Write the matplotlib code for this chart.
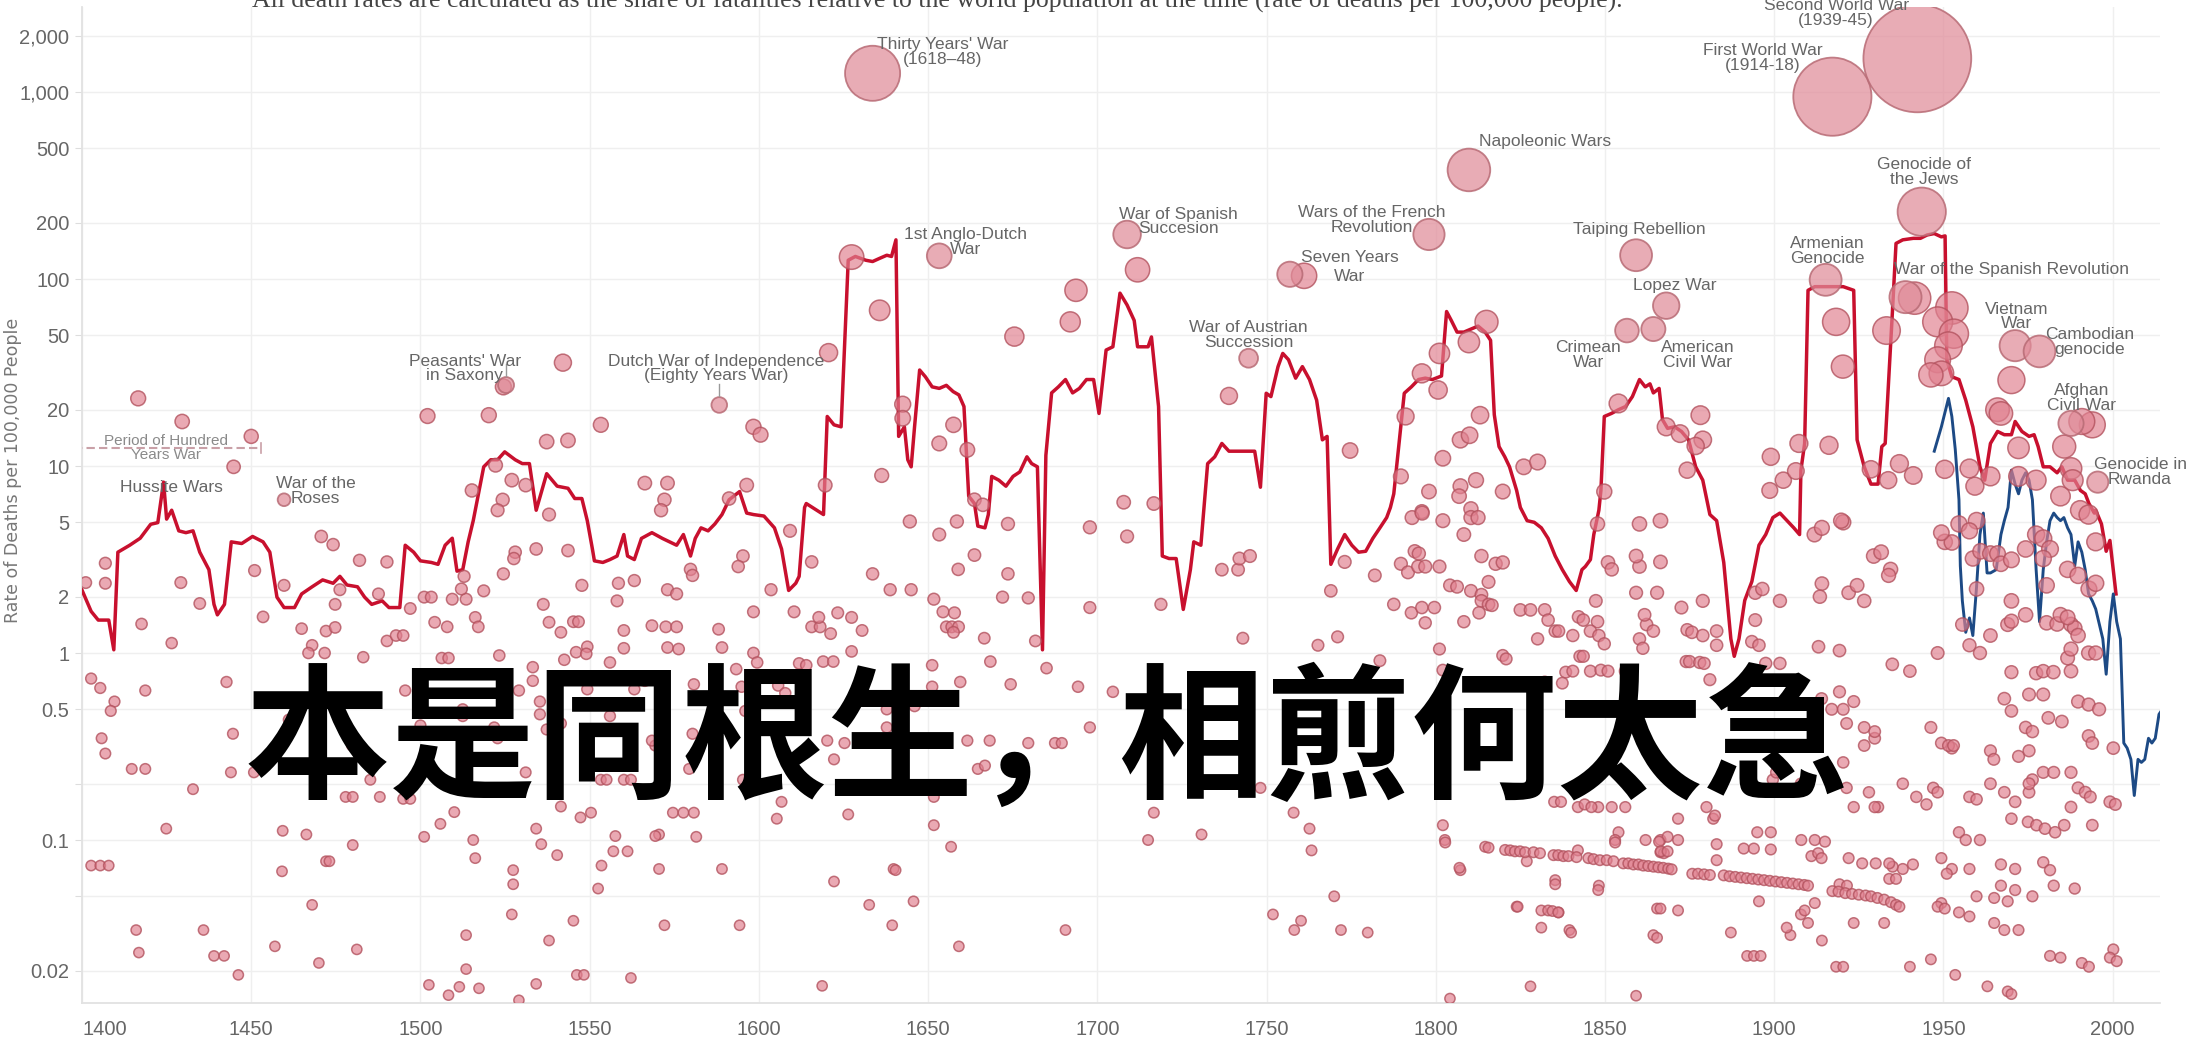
import numpy as np
import matplotlib
matplotlib.use("Agg")
import matplotlib.pyplot as plt
from matplotlib.ticker import NullLocator

# ---- global death rate (red) and post-1946 series (blue), per 100,000 people
line_years = [1400.0, 1402.7, 1404.8, 1407.9, 1409.4, 1410.6, 1414.1, 1417.2, 1420.3, 1422.4, 1424.1, 1425.0,
              1426.5, 1428.6, 1430.7, 1432.8, 1434.8, 1437.5, 1439.0, 1440.0, 1442.1, 1444.1, 1447.2, 1450.4,
              1453.5, 1455.5, 1457.6, 1459.7, 1462.8, 1464.9, 1468.0, 1471.1, 1474.2, 1476.2, 1478.3, 1481.4,
              1483.5, 1485.6, 1488.7, 1490.7, 1493.9, 1495.5, 1498.0, 1500.0, 1503.2, 1505.2, 1507.3, 1509.4,
              1510.8, 1512.5, 1514.1, 1515.6, 1518.7, 1520.8, 1522.8, 1524.9, 1528.0, 1530.1, 1532.2, 1534.2,
              1537.3, 1540.4, 1543.6, 1545.6, 1547.7, 1549.3, 1550.8, 1551.4, 1553.9, 1556.0, 1558.1, 1560.1,
              1561.2, 1563.2, 1565.3, 1568.4, 1571.5, 1573.6, 1575.7, 1577.7, 1579.8, 1581.2, 1582.9, 1585.0,
              1587.0, 1589.1, 1591.2, 1594.3, 1596.4, 1598.4, 1601.5, 1604.6, 1606.7, 1608.8, 1610.9, 1611.9,
              1613.5, 1614.0, 1617.1, 1619.1, 1620.2, 1622.2, 1624.3, 1626.4, 1628.5, 1631.6, 1633.6, 1635.7,
              1637.8, 1639.2, 1640.5, 1641.3, 1643.0, 1644.0, 1645.0, 1646.0, 1647.5, 1649.2, 1651.2, 1653.3,
              1655.4, 1657.4, 1659.1, 1660.6, 1662.0, 1663.7, 1664.7, 1666.8, 1667.8, 1668.8, 1670.9, 1673.0,
              1675.1, 1677.1, 1679.2, 1680.6, 1682.3, 1683.8, 1684.8, 1686.5, 1688.5, 1690.6, 1692.7, 1694.7,
              1696.8, 1698.9, 1700.5, 1702.6, 1704.6, 1706.7, 1708.8, 1710.9, 1711.9, 1715.0, 1716.0, 1718.1,
              1719.2, 1721.2, 1723.3, 1725.4, 1727.5, 1728.5, 1730.6, 1732.6, 1734.7, 1736.8, 1738.9, 1742.0,
              1746.5, 1748.2, 1749.9, 1751.3, 1753.4, 1754.8, 1756.5, 1758.6, 1760.6, 1762.7, 1764.8, 1766.5,
              1767.9, 1769.0, 1771.0, 1773.1, 1775.2, 1777.2, 1779.3, 1781.4, 1783.5, 1785.5, 1786.6, 1787.6,
              1790.7, 1792.8, 1794.9, 1796.9, 1799.0, 1801.7, 1803.2, 1804.6, 1806.3, 1808.3, 1810.4, 1812.5,
              1814.6, 1816.2, 1817.3, 1818.7, 1820.4, 1821.8, 1823.9, 1825.0, 1827.0, 1829.1, 1831.2, 1833.2,
              1835.3, 1837.4, 1839.5, 1841.5, 1843.2, 1844.2, 1845.7, 1846.7, 1848.2, 1848.8, 1849.8, 1851.9,
              1854.0, 1856.1, 1858.1, 1860.2, 1861.9, 1863.3, 1864.3, 1866.0, 1867.0, 1868.5, 1870.6, 1872.6,
              1874.7, 1876.8, 1878.9, 1881.0, 1883.0, 1885.1, 1887.2, 1888.2, 1889.6, 1891.3, 1893.4, 1895.5,
              1897.5, 1899.6, 1901.7, 1903.8, 1905.8, 1907.5, 1907.9, 1909.0, 1910.0, 1912.0, 1916.2, 1920.4,
              1923.5, 1924.5, 1926.6, 1928.6, 1930.7, 1931.8, 1932.8, 1934.9, 1936.0, 1938.0, 1941.1, 1943.2,
              1945.2, 1947.3, 1949.4, 1950.5, 1951.0, 1952.5, 1954.6, 1956.6, 1958.7, 1960.8, 1962.2, 1963.9,
              1966.0, 1968.0, 1970.1, 1971.2, 1973.2, 1975.3, 1976.8, 1978.0, 1979.5, 1981.5, 1983.6, 1985.0,
              1986.7, 1988.8, 1990.5, 1991.9, 1993.0, 1994.6, 1995.0, 1996.7, 1998.1, 1999.2, 2001.0]
line_rates = [2.17, 1.67, 1.50, 1.50, 1.04, 3.46, 3.77, 4.11, 4.88, 4.98, 8.2, 5.2,
              5.8, 4.5, 4.4, 4.5, 3.46, 2.79, 1.82, 1.60, 1.82, 3.93, 3.85, 4.2,
              3.93, 3.46, 1.99, 1.75, 1.75, 2.07, 2.26, 2.46, 2.36, 2.57, 2.31, 2.26,
              1.99, 1.82, 1.90, 1.75, 1.75, 3.77, 3.46, 3.11, 3.05, 2.98, 3.77, 4.11,
              2.74, 2.79, 3.93, 5.1, 9.9, 10.8, 10.8, 11.9, 10.8, 10.3, 10.3, 5.8,
              9.1, 7.8, 7.6, 6.7, 6.7, 5.1, 3.61, 3.11, 3.05, 3.16, 3.3, 4.3,
              3.3, 3.16, 4.1, 4.4, 4.1, 3.93, 3.77, 4.3, 3.3, 4.1, 4.67, 4.5,
              4.9, 5.5, 6.6, 7.3, 5.6, 5.5, 5.4, 4.67, 3.6, 2.16, 2.36, 2.57,
              6.0, 6.3, 5.8, 5.5, 18.4, 16.6, 16.2, 126, 132, 126, 124, 129,
              134, 132, 162, 14.4, 16.2, 10.8, 9.9, 16.2, 32.6, 30, 26.5, 26,
              27, 25, 24, 20.8, 6.9, 6.3, 4.77, 4.67, 5.5, 8.8, 8.4, 7.8,
              8.8, 9.3, 11.2, 10.3, 9.9, 1.04, 11.4, 24.6, 26.5, 29, 24.6, 26,
              29, 29, 19.1, 41.7, 43.4, 84, 72.6, 60, 43.4, 43.4, 49, 20.8,
              3.3, 3.2, 3.2, 1.71, 2.79, 3.93, 3.77, 10.3, 11.2, 13.2, 12.0, 12.0,
              12.0, 7.7, 24.5, 23.5, 34, 40, 37, 29.5, 34, 29, 22.5, 13.8,
              14.4, 2.98, 3.6, 4.3, 3.77, 3.46, 3.5, 4.1, 4.67, 5.3, 6.0, 7.1,
              24.5, 26.5, 29, 29.5, 29, 30.3, 67, 60, 52, 52, 54, 56,
              52, 47, 18.8, 12.7, 11.2, 9.9, 7.4, 6.0, 5.1, 5.0, 4.67, 4.1,
              3.3, 2.79, 2.41, 2.16, 2.79, 2.9, 3.16, 4.3, 5.8, 7.4, 18.4, 19.1,
              20, 20.8, 23.5, 29, 26.5, 27.5, 24.6, 26, 17.7, 15.9, 16.2, 15.3,
              13.8, 9.9, 8.4, 5.5, 5.1, 3.05, 1.19, 0.96, 1.19, 1.91, 2.41, 3.77,
              4.3, 5.3, 5.6, 5.1, 4.67, 4.3, 9.5, 13.2, 87, 91, 91, 91,
              87, 13.8, 9.9, 8.0, 8.0, 12.7, 13.2, 65, 155, 162, 165, 165,
              172, 175, 168, 170, 37, 30, 29, 22.5, 16.2, 9.9, 8.4, 13.2,
              15.3, 14.7, 14.7, 17.3, 15.3, 14.4, 14.7, 12.7, 9.9, 9.9, 9.2, 9.9,
              8.4, 8.4, 7.4, 7.1, 6.3, 5.6, 5.8, 4.9, 3.5, 4.0, 2.07]

blue_years = [1947.3, 1949.4, 1951.5, 1952.5, 1953.5, 1954.6, 1955.0, 1955.6, 1956.6, 1957.7, 1958.7, 1959.8,
              1960.8, 1961.8, 1962.9, 1963.9, 1965.6, 1967.0, 1968.0, 1969.1, 1970.1, 1971.2, 1972.2, 1973.2,
              1974.3, 1975.3, 1976.3, 1977.4, 1978.4, 1979.5, 1980.5, 1981.5, 1982.6, 1983.6, 1984.6, 1985.6,
              1986.7, 1987.7, 1988.8, 1989.8, 1990.9, 1991.9, 1992.9, 1994.0, 1995.0, 1997.1, 1998.1, 1999.2,
              2000.2, 2001.2, 2002.3, 2003.3, 2004.3, 2005.4, 2006.4, 2007.5, 2008.5, 2009.5, 2010.6, 2011.6,
              2012.6, 2013.7, 2014.7]
blue_rates = [12, 16.2, 23, 18.4, 12.3, 6.6, 2.92, 1.9, 1.29, 1.54, 1.24, 2.26,
              4.3, 5.6, 2.68, 2.68, 2.79, 4.3, 5.1, 6.0, 9.5, 8.0, 7.1, 8.4,
              9.2, 8.4, 6.6, 2.79, 1.47, 2.79, 3.93, 5.1, 5.6, 5.3, 5.1, 5.3,
              4.67, 4.3, 2.92, 3.93, 3.46, 2.79, 2.07, 1.9, 1.72, 1.19, 0.77, 1.47,
              2.07, 1.47, 1.19, 0.33, 0.31, 0.27, 0.173, 0.27, 0.26, 0.27, 0.35, 0.33,
              0.35, 0.47, 0.5]

# ---- individual conflicts (year, rate per 100,000)
dots_1400s = [(1416.6, 23.0), (1429.6, 17.3), (1450.0, 14.4), (1444.8, 9.9),
              (1401.1, 2.38), (1406.9, 3.02), (1406.9, 2.36), (1402.7, 0.73), (1405.4, 0.65), (1409.6, 0.55),
              (1408.5, 0.49), (1405.8, 0.35), (1406.9, 0.29), (1402.7, 0.073), (1405.4, 0.073), (1407.9, 0.073),
              (1417.6, 1.43), (1418.7, 0.63), (1414.7, 0.24), (1418.7, 0.24), (1426.5, 1.13), (1429.2, 2.38),
              (1424.9, 0.115), (1432.8, 0.187), (1416.0, 0.033), (1416.8, 0.025), (1434.8, 1.84), (1435.9, 0.033),
              (1439.0, 0.024), (1442.0, 0.024), (1446.2, 0.019), (1442.7, 0.70), (1444.6, 0.37), (1444.0, 0.23),
              (1450.8, 0.23), (1451.0, 2.76), (1453.5, 1.56), (1459.3, 0.112), (1459.1, 0.068), (1459.7, 2.3),
              (1457.0, 0.027), (1464.9, 1.35), (1468.0, 1.1), (1466.9, 1.0), (1466.3, 0.107), (1471.7, 1.0),
              (1472.1, 1.31), (1474.8, 1.37), (1470.7, 4.2), (1474.2, 3.8), (1461.1, 0.44), (1468.0, 0.045),
              (1470.0, 0.022), (1472.1, 0.077), (1473.1, 0.077), (1470.0, 0.31), (1474.8, 1.82), (1476.2, 2.18),
              (1482.0, 3.13), (1483.1, 0.95), (1479.8, 0.32), (1477.9, 0.17), (1480.0, 0.17), (1480.0, 0.094),
              (1481.2, 0.026), (1485.2, 0.21), (1488.0, 0.17), (1490.1, 3.07), (1487.6, 2.07), (1490.1, 1.16),
              (1492.8, 1.24), (1494.9, 1.24), (1495.5, 0.63), (1494.9, 0.166), (1497.0, 0.166), (1497.0, 1.73)]

dots_1500s = [(1502.1, 18.5), (1520.2, 18.7), (1524.5, 26.5), (1542.1, 35.7), (1537.3, 13.5), (1543.6, 13.7),
              (1553.3, 16.6), (1515.2, 7.4), (1522.2, 10.1), (1527.0, 8.4), (1531.1, 7.9), (1524.3, 6.6),
              (1522.8, 5.8), (1538.0, 5.5), (1566.3, 8.1), (1573.0, 8.1), (1572.1, 6.6), (1571.1, 5.8),
              (1598.4, 16.2), (1596.4, 7.9), (1591.2, 6.7),
              (1501.1, 1.99), (1503.2, 1.99), (1501.1, 0.104), (1505.9, 0.122), (1510.0, 0.141), (1504.2, 1.46),
              (1507.9, 1.38), (1506.3, 0.94), (1508.3, 0.94), (1500.0, 0.41), (1502.5, 0.0168), (1508.3, 0.0148),
              (1511.5, 0.0164), (1513.5, 0.0204), (1517.3, 0.0161), (1515.6, 0.1), (1516.2, 0.080), (1513.5, 0.031),
              (1509.4, 1.94), (1513.5, 1.94), (1512.1, 2.2), (1518.7, 2.15), (1516.2, 1.55), (1517.1, 1.38),
              (1512.9, 2.57), (1524.5, 2.65), (1528.0, 3.46), (1527.6, 3.2), (1534.2, 3.6), (1523.3, 0.97),
              (1533.2, 0.84), (1533.2, 0.71), (1535.3, 0.55), (1535.3, 0.47), (1529.1, 0.63), (1531.1, 0.23),
              (1527.4, 0.069), (1527.4, 0.058), (1527.0, 0.040), (1529.1, 0.0139), (1534.2, 0.017), (1534.2, 0.115),
              (1535.7, 0.095), (1540.4, 0.083), (1538.0, 0.029), (1536.3, 1.82), (1538.0, 1.46), (1541.5, 1.29),
              (1542.5, 0.92), (1543.6, 3.53), (1545.2, 1.47), (1546.7, 1.47), (1547.7, 2.3), (1546.0, 1.01),
              (1549.3, 1.08), (1549.0, 0.99), (1541.5, 0.151), (1545.2, 0.037), (1546.2, 0.019), (1548.3, 0.019),
              (1547.3, 0.132), (1550.4, 0.14), (1552.5, 0.055), (1553.5, 0.073), (1557.0, 0.087), (1557.6, 0.105),
              (1556.0, 0.89), (1554.5, 0.73), (1558.1, 1.9), (1560.1, 1.32), (1558.5, 2.36), (1563.2, 2.44),
              (1561.2, 0.087), (1562.2, 0.0183), (1560.1, 1.06), (1553.3, 0.21), (1555.0, 0.21), (1560.1, 0.21),
              (1562.2, 0.21), (1568.4, 1.4), (1572.5, 1.38), (1575.7, 1.38), (1573.0, 1.07), (1576.3, 1.05),
              (1573.0, 2.18), (1575.7, 2.07), (1566.3, 0.71), (1569.4, 0.32), (1574.6, 0.14), (1577.7, 0.14),
              (1580.8, 0.14), (1570.5, 0.107), (1569.4, 0.105), (1581.5, 0.104), (1570.5, 0.070), (1572.1, 0.035),
              (1579.8, 2.8), (1580.4, 2.6), (1588.1, 1.34), (1589.1, 1.07), (1580.8, 0.68), (1580.4, 0.37),
              (1579.4, 0.24), (1587.5, 0.21), (1589.1, 0.07), (1594.3, 0.035), (1595.3, 3.3), (1593.9, 2.9),
              (1598.4, 1.66), (1598.4, 1.0), (1599.5, 0.89), (1593.3, 0.82), (1594.9, 0.66), (1596.0, 0.49),
              (1595.3, 0.21), (1512.5, 0.5), (1512.5, 0.46), (1521.8, 0.40), (1522.8, 0.35), (1537.3, 0.39),
              (1541.5, 0.42), (1549.3, 0.64), (1556.0, 0.46), (1563.2, 0.64), (1568.4, 0.34)]

dots_1600s = [(1600.5, 14.7), (1620.6, 40.4), (1619.6, 7.9), (1627.4, 131), (1635.7, 68), (1642.5, 21.4),
              (1642.5, 18.0), (1657.5, 16.6), (1653.3, 13.2), (1661.6, 12.2), (1636.3, 8.9), (1663.7, 6.6),
              (1666.2, 6.2), (1675.5, 49.2), (1692.0, 59), (1693.7, 87),
              (1603.6, 2.18), (1609.2, 4.5), (1610.4, 1.66), (1615.6, 3.07), (1605.3, 0.13), (1606.7, 0.16),
              (1611.9, 0.88), (1614.0, 0.86), (1615.6, 1.38), (1618.1, 1.38), (1617.7, 1.55), (1621.2, 1.27),
              (1623.3, 1.64), (1627.4, 1.55), (1630.5, 1.32), (1627.4, 1.02), (1620.2, 0.34), (1622.2, 0.27),
              (1625.3, 0.33), (1626.4, 0.137), (1622.2, 0.06), (1618.7, 0.0166), (1633.6, 2.65), (1638.8, 2.18),
              (1645.0, 2.18), (1644.6, 5.05), (1653.3, 4.3), (1658.5, 5.05), (1637.8, 0.50), (1637.8, 0.40),
              (1632.6, 0.045), (1639.8, 0.07), (1640.4, 0.069), (1639.4, 0.035), (1645.7, 0.047), (1651.2, 0.86),
              (1651.2, 0.66), (1646.0, 0.52), (1651.7, 1.94), (1654.4, 1.66), (1657.8, 1.64), (1655.4, 1.38),
              (1657.0, 1.38), (1659.0, 1.38), (1657.5, 1.29), (1651.7, 0.17), (1651.7, 0.12), (1656.8, 0.092),
              (1659.1, 0.027), (1659.5, 0.7), (1658.9, 2.8), (1663.7, 3.34), (1666.6, 1.2), (1668.4, 0.90),
              (1673.6, 4.9), (1673.6, 2.65), (1672.0, 1.99), (1674.4, 0.68), (1679.6, 1.97), (1681.7, 1.16),
              (1685.0, 0.83), (1679.6, 0.33), (1687.5, 0.33), (1689.5, 0.33), (1668.2, 0.34), (1690.6, 0.033),
              (1694.3, 0.66), (1697.8, 1.75), (1697.8, 4.7), (1697.8, 0.4), (1605.7, 0.67), (1607.8, 0.61),
              (1609.8, 0.23), (1619.0, 0.9), (1622.0, 0.9), (1661.6, 0.34), (1664.7, 0.24), (1666.8, 0.25)]

dots_1700s = [(1711.9, 112), (1707.8, 6.4), (1716.7, 6.3), (1738.9, 23.7), (1761.1, 104), (1774.7, 12.1),
              (1791.1, 18.4), (1795.9, 31.3), (1789.7, 8.8), (1798.0, 7.3), (1795.9, 5.7),
              (1708.8, 4.2), (1718.8, 1.82), (1736.8, 2.79), (1741.6, 2.79), (1742.0, 3.2), (1745.1, 3.3),
              (1743.0, 1.2), (1704.6, 0.62), (1715.0, 0.10), (1716.7, 0.14), (1730.8, 0.107), (1751.9, 0.040),
              (1758.0, 0.14), (1762.7, 0.115), (1763.3, 0.088), (1758.2, 0.033), (1760.2, 0.037), (1770.0, 0.050),
              (1772.0, 0.033), (1779.9, 0.032), (1765.2, 1.1), (1771.0, 1.22), (1769.0, 2.15), (1773.1, 3.07),
              (1782.0, 2.6), (1783.5, 0.91), (1787.6, 1.82), (1792.8, 1.64), (1795.9, 1.75), (1799.6, 1.75),
              (1789.7, 3.0), (1791.8, 2.7), (1794.8, 2.9), (1796.9, 2.9), (1793.8, 3.5), (1795.0, 3.4),
              (1796.9, 1.45), (1748.2, 0.19), (1793.0, 5.3), (1796.0, 5.6)]

dots_1800s = [(1815.0, 59), (1809.8, 46), (1801.1, 40), (1800.7, 25.5), (1813.1, 18.7), (1807.3, 13.8),
              (1810.0, 14.6), (1802.1, 11), (1826.0, 9.9), (1830.1, 10.5), (1811.9, 8.4), (1807.3, 7.8),
              (1819.8, 7.3), (1806.9, 6.9), (1810.4, 5.9), (1854.0, 21.6), (1878.2, 18.7), (1868.1, 16.2),
              (1872.2, 14.9), (1878.9, 13.8), (1876.8, 12.8), (1874.3, 9.5), (1849.8, 7.3), (1899.0, 11.2),
              (1898.7, 7.4),
              (1801.1, 2.9), (1801.1, 1.05), (1802.1, 0.81), (1804.2, 2.3), (1806.3, 2.26), (1808.3, 1.47),
              (1810.4, 2.15), (1813.5, 2.05), (1815.6, 2.4), (1813.5, 1.9), (1815.6, 1.82), (1816.6, 1.8),
              (1817.7, 3.0), (1819.8, 3.05), (1813.5, 3.3), (1812.8, 1.64), (1808.3, 4.3), (1810.4, 5.3),
              (1812.5, 5.3), (1802.1, 5.1), (1825.0, 1.7), (1828.0, 1.7), (1832.2, 1.7), (1833.2, 1.5),
              (1835.3, 1.31), (1842.2, 1.56), (1843.6, 1.5), (1847.8, 1.47), (1847.3, 1.9), (1842.6, 0.96),
              (1843.6, 0.96), (1838.4, 0.79), (1840.5, 0.8), (1837.4, 0.69), (1830.0, 0.68), (1832.2, 0.7),
              (1828.0, 0.67), (1819.8, 0.97), (1820.8, 0.93), (1816.6, 0.68), (1830.1, 1.19), (1836.3, 1.31),
              (1840.5, 1.24), (1845.7, 1.31), (1848.2, 1.24), (1849.8, 1.12), (1845.7, 0.8), (1848.8, 0.81),
              (1850.9, 0.8), (1856.0, 0.8), (1857.0, 0.8), (1862.3, 1.42), (1864.3, 1.31), (1860.2, 1.19),
              (1861.2, 1.06), (1861.7, 1.6), (1859.2, 2.1), (1860.2, 2.9), (1859.2, 3.3), (1866.4, 3.07),
              (1874.3, 1.33), (1875.7, 1.29), (1878.9, 1.24), (1883.0, 1.31), (1883.0, 1.1), (1874.0, 0.9),
              (1875.0, 0.9), (1878.0, 0.89), (1879.3, 0.88), (1881.0, 0.72), (1878.9, 1.9), (1872.6, 1.75),
              (1865.4, 2.1), (1850.9, 3.05), (1852.0, 2.8), (1860.2, 4.9), (1866.4, 5.1), (1847.8, 4.9),
              (1893.4, 1.15), (1895.5, 1.1), (1897.5, 0.88), (1894.4, 0.8), (1894.4, 2.1), (1896.5, 2.2),
              (1894.4, 1.5),
              (1802.1, 0.12), (1802.7, 0.1), (1807.3, 0.069), (1802.8, 0.097), (1823.9, 0.044), (1831.2, 0.042),
              (1833.2, 0.042), (1836.3, 0.041), (1831.2, 0.034), (1839.5, 0.033), (1835.3, 0.061), (1848.2, 0.057),
              (1835.3, 0.058), (1848.0, 0.054), (1824.2, 0.044), (1834.5, 0.0417), (1836.2, 0.041), (1840.0, 0.032),
              (1865.4, 0.043), (1866.4, 0.043), (1871.6, 0.042), (1864.3, 0.031), (1865.4, 0.030), (1887.2, 0.032),
              (1828.0, 0.0165), (1859.2, 0.0147), (1804.2, 0.0142), (1854.0, 0.11), (1853.0, 0.1), (1862.0, 0.1),
              (1866.4, 0.1), (1871.6, 0.1), (1868.5, 0.104), (1866.4, 0.086), (1867.4, 0.085), (1883.0, 0.095),
              (1883.0, 0.078), (1882.0, 0.13), (1871.6, 0.13), (1891.0, 0.09), (1894.0, 0.09), (1899.0, 0.089),
              (1895.0, 0.11), (1899.0, 0.11), (1895.5, 0.047), (1892.0, 0.024), (1894.0, 0.024), (1896.0, 0.024),
              (1880.0, 0.15), (1882.5, 0.135), (1848.0, 0.15), (1852.0, 0.15), (1856.0, 0.15), (1842.0, 0.15),
              (1844.0, 0.155), (1846.0, 0.15), (1835.0, 0.16), (1837.0, 0.16), (1842.0, 0.088), (1853.0, 0.097),
              (1866.0, 0.098), (1866.5, 0.087), (1868.5, 0.087), (1826.9, 0.077), (1807.0, 0.071)]

dots_1900s = [(1918.3, 59), (1920.3, 34), (1941.5, 79), (1952.5, 70), (1948.3, 59), (1953.1, 51),
              (1951.5, 44), (1948.3, 37), (1949.4, 31.3), (1946.3, 30.7), (1933.2, 53), (1970.1, 28.8),
              (1966.0, 20), (1967.0, 19.1), (1994.0, 16.6), (1990.9, 17.3), (1985.7, 12.7), (1972.2, 12.5),
              (1987.7, 9.7), (1907.3, 13.2), (1916.2, 12.9), (1902.7, 8.4), (1906.4, 9.4), (1928.6, 9.6),
              (1933.7, 8.4), (1937.0, 10.3), (1941.1, 8.9), (1950.4, 9.6), (1959.3, 7.8), (1957.7, 9.7),
              (1963.9, 8.8), (1972.2, 8.8), (1977.4, 8.4), (1984.6, 6.9), (1988.2, 8.4),
              (1901.7, 0.88), (1901.7, 1.9), (1913.1, 1.08), (1919.3, 1.03), (1914.1, 2.35), (1913.5, 2.0),
              (1922.0, 2.1), (1924.5, 2.3), (1926.6, 1.9), (1929.4, 3.3), (1931.6, 3.46), (1934.4, 2.8),
              (1933.8, 2.6), (1934.9, 0.87), (1940.1, 0.8), (1948.3, 1.0), (1911.9, 4.3), (1914.1, 4.67),
              (1920.4, 5.0), (1919.8, 5.1), (1950.4, 3.93), (1952.5, 3.9), (1954.6, 4.9), (1958.7, 3.2),
              (1961.0, 3.5), (1963.9, 3.4), (1966.0, 3.4), (1967.0, 3.0), (1970.1, 3.15), (1974.3, 3.6),
              (1959.8, 2.2), (1970.1, 1.9), (1974.3, 1.6), (1969.0, 1.42), (1970.1, 1.48), (1963.9, 1.24),
              (1957.7, 1.1), (1960.8, 1.0), (1955.6, 1.42), (1970.1, 0.79), (1977.4, 0.78), (1979.5, 0.8),
              (1982.5, 0.79), (1987.7, 0.8), (1975.3, 0.6), (1979.5, 0.6), (1980.5, 1.45), (1983.6, 1.43),
              (1987.7, 1.42), (1988.8, 1.36), (1984.6, 1.6), (1986.7, 1.55), (1989.8, 1.24), (1992.9, 1.0),
              (1986.7, 0.94), (1987.7, 1.05), (1995.0, 1.0), (1977.4, 4.3), (1979.5, 4.1), (1981.5, 3.6),
              (1979.5, 3.2), (1980.5, 2.3), (1986.7, 2.8), (1989.8, 2.6), (1993.0, 2.2), (1995.0, 2.36),
              (1995.0, 3.93), (1990.4, 5.8), (1992.9, 5.5), (1959.8, 5.1), (1957.7, 4.5), (1949.4, 4.4),
              (1952.5, 0.31), (1949.4, 0.33), (1963.9, 0.3), (1964.9, 0.27), (1972.2, 0.28), (1975.3, 0.3),
              (1968.0, 0.57), (1970.1, 0.49), (1974.3, 0.4), (1976.3, 0.38), (1981.0, 0.45), (1985.0, 0.43),
              (1989.8, 0.55), (1992.9, 0.53), (1996.0, 0.5), (1992.9, 0.36), (1994.0, 0.33), (2000.2, 0.31),
              (1989.8, 0.19), (1991.9, 0.18), (1993.4, 0.17), (1999.2, 0.16), (2000.8, 0.155), (1987.7, 0.15),
              (1985.7, 0.12), (1994.0, 0.12), (1975.0, 0.125), (1977.5, 0.12), (1980.0, 0.115), (1983.0, 0.11),
              (1970.1, 0.13), (1971.2, 0.16), (1975.3, 0.18), (1976.3, 0.21), (1975.3, 0.2), (1979.5, 0.23),
              (1982.6, 0.23), (1987.7, 0.23), (1968.0, 0.18), (1963.9, 0.2), (1957.7, 0.17), (1959.8, 0.165),
              (1954.6, 0.11), (1956.6, 0.1), (1960.8, 0.1), (1949.4, 0.08), (1952.5, 0.07), (1957.7, 0.07),
              (1967.0, 0.074), (1971.2, 0.07), (1979.5, 0.076), (1981.5, 0.069), (1988.8, 0.055), (1982.6, 0.057),
              (1971.2, 0.054), (1976.3, 0.05), (1967.0, 0.057), (1969.0, 0.047), (1959.8, 0.05), (1965.0, 0.049),
              (1949.4, 0.046), (1948.3, 0.044), (1950.4, 0.043), (1954.6, 0.041), (1957.7, 0.039), (1965.0, 0.036),
              (1972.2, 0.033), (1968.0, 0.033), (1981.5, 0.024), (1984.6, 0.0235), (1990.9, 0.022), (1993.0, 0.021),
              (2000.2, 0.026), (1999.2, 0.0235), (2001.2, 0.0225), (1963.0, 0.0165), (1969.0, 0.0155), (1970.1, 0.015),
              (1953.5, 0.019), (1946.3, 0.023), (1940.1, 0.021),
              (1928.0, 0.18), (1930.7, 0.15), (1921.4, 0.19), (1920.4, 0.26), (1926.6, 0.32), (1929.7, 0.35),
              (1938.0, 0.2), (1942.0, 0.17), (1945.0, 0.155), (1947.0, 0.19), (1948.3, 0.18), (1946.3, 0.4),
              (1951.5, 0.32), (1953.0, 0.32), (1951.0, 0.066), (1938.0, 0.07), (1935.0, 0.072), (1941.0, 0.074),
              (1934.0, 0.062), (1936.0, 0.062), (1923.5, 0.15), (1929.7, 0.15), (1908.0, 0.1), (1912.0, 0.1),
              (1915.0, 0.098), (1911.0, 0.082), (1913.0, 0.085), (1914.0, 0.08), (1922.0, 0.08), (1926.0, 0.075),
              (1930.0, 0.075), (1934.0, 0.075), (1919.3, 0.058), (1921.5, 0.057), (1923.5, 0.036), (1932.5, 0.036),
              (1907.9, 0.04), (1909.0, 0.042), (1904.8, 0.031), (1918.3, 0.021), (1920.4, 0.021), (1903.7, 0.034),
              (1912.0, 0.046), (1910.0, 0.036), (1914.1, 0.029), (1899.6, 0.21), (1900.6, 0.23), (1907.9, 0.2),
              (1919.3, 0.62), (1920.4, 0.5), (1921.4, 0.42), (1923.5, 0.55), (1926.6, 0.4), (1929.7, 0.38),
              (1917.0, 0.5), (1914.0, 0.57)]

# long run of small colonial-era entries
dots_chain = [(1814.6, 0.092), (1815.6, 0.091), (1820.5, 0.0885), (1822.0, 0.088), (1823.4, 0.087), (1824.9, 0.087),
              (1826.4, 0.086), (1828.9, 0.086), (1830.8, 0.085), (1834.8, 0.083), (1836.2, 0.083), (1837.7, 0.082),
              (1839.2, 0.082), (1841.6, 0.081), (1845.1, 0.080), (1846.6, 0.079), (1848.5, 0.078), (1850.5, 0.078),
              (1852.5, 0.077), (1855.4, 0.075), (1856.9, 0.075), (1858.4, 0.074), (1859.9, 0.074), (1861.3, 0.073),
              (1862.8, 0.0726), (1864.3, 0.072), (1865.8, 0.0715), (1867.2, 0.071), (1868.7, 0.0703), (1869.7, 0.0697),
              (1875.8, 0.066), (1877.5, 0.066), (1879.3, 0.0655), (1881.0, 0.065), (1885.1, 0.0647), (1886.8, 0.064),
              (1888.5, 0.0635), (1890.2, 0.063), (1891.9, 0.0625), (1893.6, 0.062), (1895.3, 0.0615), (1897.0, 0.061),
              (1898.7, 0.0605), (1900.4, 0.060), (1902.1, 0.0595), (1903.8, 0.059), (1905.5, 0.0585), (1907.2, 0.058),
              (1908.9, 0.0575), (1910.0, 0.057), (1917.2, 0.0533), (1919.0, 0.053), (1921.0, 0.052), (1923.0, 0.0515),
              (1925.0, 0.051), (1927.0, 0.0505), (1928.6, 0.050), (1930.5, 0.049), (1932.5, 0.048), (1934.5, 0.0465),
              (1936.0, 0.045), (1937.0, 0.044)]

# named conflicts
event_years = [1633.6, 1653.3, 1525.3, 1588.3, 1459.7, 1708.8, 1744.7, 1756.9, 1798.0, 1809.8,
               1859.2, 1868.1, 1856.5, 1864.3, 1915.2, 1917.2, 1942.3, 1943.6, 1938.8, 1971.2,
               1978.4, 1987.7, 1995.6]
event_rates = [1259, 133, 27.1, 21.2, 6.6, 173, 37.7, 106, 173, 383,
               134, 72, 53, 54, 99, 944, 1513, 229, 80, 44,
               41, 16.9, 8.2]

# world population (millions), used for bubble area (deaths)
pop_years = [1400, 1500, 1600, 1700, 1750, 1800, 1850, 1900, 1920, 1940, 1950, 1960, 1970, 1980, 1990, 2000, 2015]
pop_millions = [370, 460, 580, 640, 790, 980, 1260, 1650, 1860, 2300, 2525, 3020, 3700, 4440, 5310, 6140, 7350]

# Hundred Years War period (start, end, rate)
hundred_years = (1337, 1453, 12.5)

labels = [
    ("Thirty Years' War\n(1618–48)", 1654.4, 1644),
    ("1st Anglo-Dutch\nWar", 1661.2, 157),
    ("Peasants' War\nin Saxony", 1513.1, 33.2),
    ("Dutch War of Independence\n(Eighty Years War)", 1587.5, 33.2),
    ("Hussite Wars", 1426.5, 7.7),
    ("War of the\nRoses", 1469.0, 7.35),
    ("War of Spanish\nSuccesion", 1724.0, 203),
    ("War of Austrian\nSuccession", 1744.7, 50.2),
    ("Wars of the French\nRevolution", 1781.1, 207),
    ("Napoleonic Wars", 1832.2, 542),
    ("Taiping Rebellion", 1860.2, 185),
    ("Lopez War", 1870.6, 92),
    ("Crimean\nWar", 1845.1, 39.4),
    ("American\nCivil War", 1877.4, 39.4),
    ("Armenian\nGenocide", 1915.8, 141),
    ("First World War\n(1914-18)", 1896.5, 1514),
    ("Second World War\n(1939-45)", 1918.3, 2650),
    ("Genocide of\nthe Jews", 1944.2, 375),
    ("War of the Spanish Revolution", 1970.1, 113),
    ("Vietnam\nWar", 1971.6, 63),
    ("Cambodian\ngenocide", 1993.3, 46.2),
    ("Afghan\nCivil War", 1990.9, 23.2),
    ("Genocide in\nRwanda", 2008.1, 9.3),
]

yticks = [2000, 1000, 500, 200, 100, 50, 20, 10, 5, 2, 1, 0.5, 0.2, 0.1, 0.05, 0.02]
ytick_labels = ["2,000", "1,000", "500", "200", "100", "50", "20", "10", "5", "2", "1", "0.5", "", "0.1", "", "0.02"]
xticks = list(range(1400, 2001, 50))

subtitle = ("All death rates are calculated as the share of fatalities relative to the world "
            "population at the time (rate of deaths per 100,000 people).")
overlay = "本是同根生，相煎何太急"


def bubble_size(years, rates):
    years = np.asarray(years, float)
    rates = np.asarray(rates, float)
    pop = np.interp(years, pop_years, pop_millions)
    deaths_m = rates * pop / 1e5
    d_px = 10 + 16.4 * np.sqrt(deaths_m)
    return (d_px * 0.72) ** 2


fig = plt.figure(figsize=(22.02, 10.45), dpi=100)
ax = fig.add_axes([82 / 2202, 42 / 1045, 2078 / 2202, 996 / 1045])
ax.set_yscale("log")
ax.set_xlim(1400, 2014)
ax.set_ylim(0.01344, 2848)

face = (0.88, 0.50, 0.56, 0.68)
edge = (0.70, 0.32, 0.37, 0.8)

all_dots = dots_1400s + dots_1500s + dots_1600s + dots_1700s + dots_1800s + dots_1900s + dots_chain
dx = [p[0] for p in all_dots]
dy = [p[1] for p in all_dots]
ax.scatter(dx, dy, s=bubble_size(dx, dy), facecolor=face, edgecolor=edge, linewidth=1.1, zorder=4)
ax.scatter(event_years, event_rates, s=bubble_size(event_years, event_rates),
           facecolor=(0.88, 0.55, 0.60, 0.72), edgecolor=(0.72, 0.42, 0.46, 0.85), linewidth=1.3, zorder=4)

ax.plot(line_years, line_rates, color="#c8102e", lw=2.5, zorder=3)
ax.plot(blue_years, blue_rates, color="#1d4a85", lw=2.1, zorder=3)

# Hundred Years War bracket
hs, he, hr = hundred_years
ax.plot([hs, he], [hr, hr], color="#c9a0a7", lw=1.5, ls=(0, (4, 2)), zorder=3)
ax.plot([he, he], [hr / 1.06, hr * 1.06], color="#c9a0a7", lw=1.2, zorder=3)

for txt, lx, ly in labels:
    ax.text(lx, ly, txt, ha="center", va="center", ma="center", fontsize=12.5, color="#666666",
            family="Liberation Sans", linespacing=0.98, zorder=6, clip_on=False)
ax.text(1774.5, 116, "Seven Years\nWar", ha="center", va="center", ma="center", fontsize=12.5,
        color="#666666", family="Liberation Sans", linespacing=1.3, zorder=6)
ax.text(1424.9, 12.5, "Period of Hundred\nYears War", ha="center", va="center", ma="center",
        fontsize=11, color="#8a8a8a", family="Liberation Sans", linespacing=1.05, zorder=6)

# short leader ticks under two labels
for i in (2, 3):
    ax.plot([event_years[i]] * 2, [event_rates[i] * 1.12, event_rates[i] * 1.3], color="#999999", lw=1, zorder=5)

# axes styling
ax.yaxis.set_minor_locator(NullLocator())
ax.set_yticks(yticks)
ax.set_yticklabels(ytick_labels)
ax.set_xticks(xticks)
ax.set_xticklabels([str(x) for x in xticks])
ax.get_xticklabels()[0].set_ha("left")
for lab in ax.get_xticklabels() + ax.get_yticklabels():
    lab.set_family("Liberation Sans")
ax.tick_params(axis="y", length=5, color="#dddddd", labelsize=14.5, labelcolor="#666666", pad=4)
ax.tick_params(axis="x", length=0, labelsize=14.5, labelcolor="#666666", pad=12)
ax.grid(True, color="#efefef", lw=1.0)
ax.set_axisbelow(True)
for side in ("top", "right"):
    ax.spines[side].set_visible(False)
for side in ("left", "bottom"):
    ax.spines[side].set_color("#e2e2e2")
    ax.spines[side].set_linewidth(1.3)

ax.set_ylabel("Rate of Deaths per 100,000 People", fontsize=12.5, color="#777777", family="DejaVu Sans")
ax.yaxis.set_label_coords(-0.0289, 0.535)

fig.text(0.4255, 1 - 8 / 1045, subtitle, ha="center", va="baseline", fontsize=18.5,
         family="Liberation Serif", color="#444444")

fig.text(0.4755, 0.288, overlay, ha="center", va="center", fontsize=105, fontweight="heavy",
         family=["Noto Sans CJK SC", "DejaVu Sans"], color="black", zorder=10)

fig.savefig("out.png", dpi=100)
